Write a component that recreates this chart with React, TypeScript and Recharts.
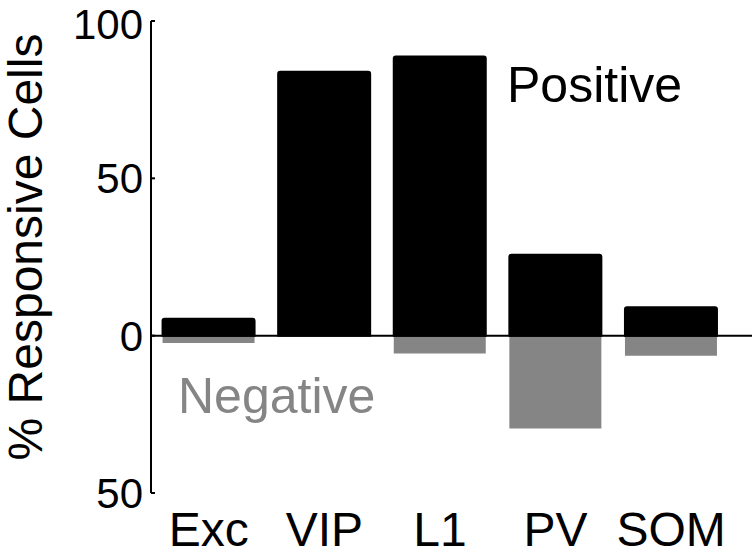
import { BarChart, Bar, XAxis, YAxis, ReferenceLine } from 'recharts';

const cellTypes = ['Exc', 'VIP', 'L1', 'PV', 'SOM'];
const positivePct = [5.4, 83.9, 88.7, 25.7, 9.0];
const negativePct = [-2.3, 0, -5.7, -29.5, -6.4];
const yTicks = [-50, 0, 50, 100];

const FONT = '"Liberation Sans", Arial, Helvetica, sans-serif';
const GREY = '#858585';

const data = cellTypes.map((name, i) => ({
  name,
  positive: positivePct[i],
  negative: negativePct[i],
}));

function ZeroLine(p: any) {
  // the zero line runs a bit past the last bar, like the original
  return <line x1={p.x1} y1={p.y1} x2={p.x2 + 23} y2={p.y2} stroke="#000" strokeWidth={2} />;
}

function YTitle({ viewBox }: any) {
  const x = (viewBox?.x ?? 0) + 42;
  const y = 247;
  return (
    <text
      x={x}
      y={y}
      transform={`rotate(-90, ${x}, ${y})`}
      textAnchor="middle"
      fontFamily={FONT}
      fontSize={48}
      fill="#000"
    >
      % Responsive Cells
    </text>
  );
}

export default function App() {
  return (
    <div style={{ position: 'absolute', left: 0, top: 0, width: 756, height: 558, background: '#fff', fontFamily: FONT }}>
      <BarChart
        width={756}
        height={558}
        data={data}
        stackOffset="sign"
        barCategoryGap="10%"
        margin={{ top: 21, right: 27, bottom: 0, left: 0 }}
      >
        <XAxis
          dataKey="name"
          axisLine={false}
          tickLine={false}
          tickSize={0}
          tickMargin={19}
          height={65}
          interval={0}
          tick={{ fill: '#000', fontSize: 48, fontFamily: FONT }}
        />
        <YAxis
          type="number"
          domain={[-50, 100]}
          ticks={yTicks}
          width={151}
          tickFormatter={(v: number) => String(Math.abs(v))}
          axisLine={{ stroke: '#000', strokeWidth: 2 }}
          tickLine={{ stroke: '#000', strokeWidth: 2 }}
          tickSize={-4}
          tickMargin={12}
          tick={{ fill: '#000', fontSize: 42, fontFamily: FONT }}
          label={<YTitle />}
        />
        <Bar dataKey="negative" stackId="a" fill={GREY} isAnimationActive={false} />
        <Bar
          dataKey="positive"
          stackId="a"
          fill="#000"
          stroke="#000"
          strokeWidth={2}
          radius={[2, 2, 0, 0]}
          isAnimationActive={false}
        />
        <ReferenceLine y={0} shape={<ZeroLine />} />
      </BarChart>
      <div style={{ position: 'absolute', left: 507, top: 60, fontSize: 50, lineHeight: 1, color: '#000', whiteSpace: 'nowrap' }}>
        Positive
      </div>
      <div style={{ position: 'absolute', left: 178, top: 371, fontSize: 50, lineHeight: 1, color: GREY, whiteSpace: 'nowrap' }}>
        Negative
      </div>
    </div>
  );
}
